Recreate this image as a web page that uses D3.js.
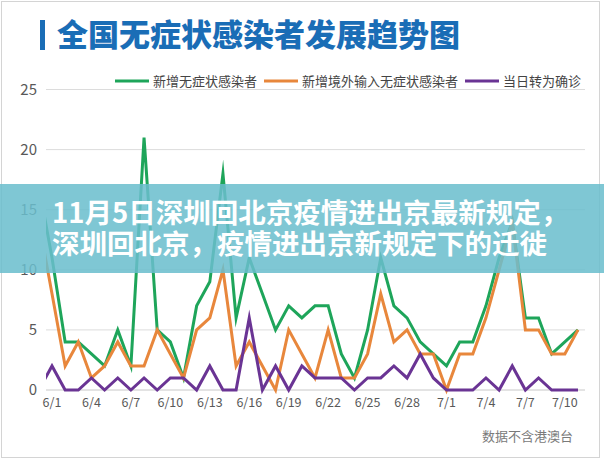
<!DOCTYPE html>
<html><head><meta charset="utf-8">
<script src="https://cdn.jsdelivr.net/npm/d3@7"></script>
<style>
html,body{margin:0;padding:0;background:#fff;}
svg{display:block;}
text{font-family:"Noto Sans CJK SC","Noto Sans",sans-serif;}
</style></head>
<body>
<svg id="chart" width="604" height="460"></svg>
<script>
// dates (5/31 is clipped at the left axis)
const dates = ["5/31","6/1","6/2","6/3","6/4","6/5","6/6","6/7","6/8","6/9","6/10","6/11","6/12","6/13","6/14","6/15","6/16","6/17","6/18","6/19","6/20","6/21","6/22","6/23","6/24","6/25","6/26","6/27","6/28","6/29","6/30","7/1","7/2","7/3","7/4","7/5","7/6","7/7","7/8","7/9","7/10","7/11"];
const newAsym   = [17,11,4,4,3,2,5,2,21,5,4,1,7,9,18,6,11,8,5,7,6,7,7,3,1,5,11,7,6,4,3,2,4,4,7,11,14,6,6,3,4,5];
const imported  = [14,8,2,4,1,2,4,2,2,5,3,1,5,6,10,2,4,2,0,5,3,1,5,1,1,3,8,4,5,3,3,0,3,3,6,10,14,5,5,3,3,5];
const confirmed = [0,2,0,0,1,0,1,0,1,0,1,1,0,2,0,0,6,0,2,0,2,1,1,1,0,1,1,2,1,3,1,0,0,0,1,0,2,0,1,0,0,0];
const tickDates = ["6/1","6/4","6/7","6/10","6/13","6/16","6/19","6/22","6/25","6/28","7/1","7/4","7/7","7/10"];
const yTicks = [0,5,10,15,20,25];
const seriesNames = ["新增无症状感染者","新增境外输入无症状感染者","当日转为确诊"];
const seriesColors = ["#1ea55a","#e8873c","#6a3494"];
const title = "全国无症状感染者发展趋势图";
const bannerLines = ["11月5日深圳回北京疫情进出京最新规定，","深圳回北京，疫情进出京新规定下的迁徙"];
const footnote = "数据不含港澳台";

const svg = d3.select("#chart");
// frame
svg.append("rect").attr("x",1.5).attr("y",1.5).attr("width",598).attr("height",456)
  .attr("fill","#fff").attr("stroke","#d4d4d4").attr("stroke-width",1);

// title
svg.append("rect").attr("x",40).attr("y",20).attr("width",5).attr("height",30).attr("fill","#1a6db6");
svg.append("text").attr("x",57).attr("y",46).attr("font-size",31).attr("font-weight",900)
  .attr("fill","#1a6db6").text(title);

const x = d3.scalePoint().domain(dates).range([38.85,578]);
const y = d3.scaleLinear().domain([0,25]).range([390,89.5]);

// grid
const grid = svg.append("g");
grid.selectAll("line").data(yTicks.slice(1)).join("line")
  .attr("x1",46).attr("x2",585).attr("y1",d=>y(d)).attr("y2",d=>y(d))
  .attr("stroke","#dcdcdc").attr("stroke-width",1);
svg.append("line").attr("x1",46).attr("x2",585).attr("y1",y(0)).attr("y2",y(0))
  .attr("stroke","#c8c8c8").attr("stroke-width",1);

// y axis labels
svg.append("g").selectAll("text").data(yTicks).join("text")
  .attr("x",37).attr("y",d=>y(d)+5).attr("text-anchor","end")
  .attr("font-size",15).attr("fill","#595959").attr("font-family","Liberation Sans, Arial, sans-serif")
  .text(d=>d);

// x axis labels
svg.append("g").selectAll("text").data(tickDates).join("text")
  .attr("x",d=>x(d)).attr("y",407).attr("text-anchor","middle")
  .attr("font-size",12.5).attr("fill","#595959").attr("font-family","Liberation Sans, Arial, sans-serif")
  .text(d=>d);

// clip
svg.append("clipPath").attr("id","plotclip").append("rect")
  .attr("x",46).attr("y",60).attr("width",545).attr("height",340);

const line = d3.line().x((d,i)=>x(dates[i])).y(d=>y(d));
const series = [newAsym, imported, confirmed];
const lg = svg.append("g").attr("clip-path","url(#plotclip)");
series.forEach((s,k)=>{
  lg.append("path").datum(s).attr("d",line).attr("fill","none")
    .attr("stroke",seriesColors[k]).attr("stroke-width",3)
    .attr("stroke-linejoin","miter").attr("stroke-miterlimit",10);
});

// legend
const legendX = [115,264,465];
seriesNames.forEach((n,k)=>{
  svg.append("line").attr("x1",legendX[k]).attr("x2",legendX[k]+34).attr("y1",81).attr("y2",81)
    .attr("stroke",seriesColors[k]).attr("stroke-width",3);
  svg.append("text").attr("x",legendX[k]+38).attr("y",85.5).attr("font-size",13)
    .attr("fill","#444").text(n);
});

// footnote
svg.append("text").attr("x",573).attr("y",441).attr("text-anchor","end")
  .attr("font-size",13).attr("fill","#7a7a7a").text(footnote);

// banner overlay
svg.append("rect").attr("x",0).attr("y",184).attr("width",604).attr("height",89)
  .attr("fill","rgba(106,190,205,0.86)");
const bt = svg.append("text").attr("font-size",27.5).attr("font-weight",700).attr("fill","#ffffff");
bannerLines.forEach((t,i)=>{
  bt.append("tspan").attr("x",52).attr("y",223+i*31).text(t);
});
</script>
</body></html>
